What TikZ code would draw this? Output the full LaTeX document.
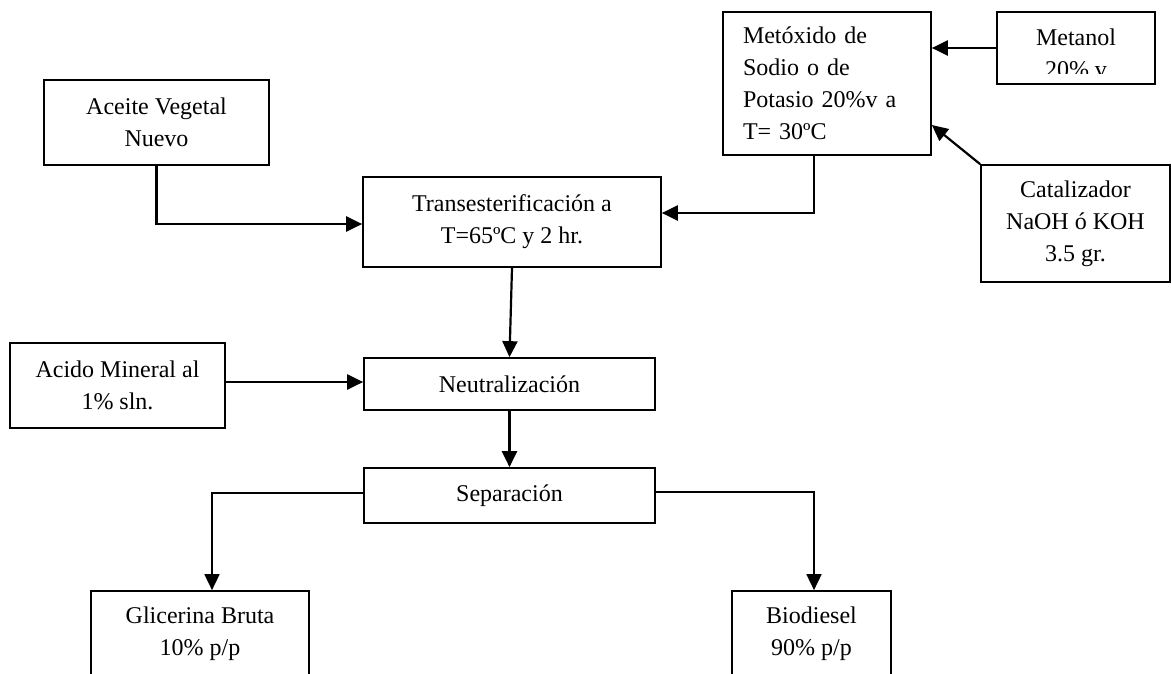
\documentclass[tikz,border=0pt]{standalone}
\usepackage{fontspec}
\setmainfont{Liberation Serif}
\usetikzlibrary{arrows.meta,calc}
\begin{document}
\begin{tikzpicture}[x=1pt,y=-1pt,
  txt/.style={inner sep=0pt, align=center, font=\fontsize{24}{32}\selectfont},
  box/.style={draw, line width=1.7pt, rectangle, txt},
  arr/.style={line width=2.2pt, -{Triangle[length=16pt,width=15pt]}},
  thinarr/.style={line width=1.7pt, -{Triangle[length=16pt,width=15pt]}}]
\useasboundingbox (0,0) rectangle (1171,673);
\clip (0,0) rectangle (1171,673);
\fill[white] (0,0) rectangle (1171,673);

\node[box, minimum width=225pt, minimum height=85pt] (aceite) at (156.5,122.5) {Aceite Vegetal\\Nuevo};
\node[box, minimum width=298pt, minimum height=90pt] (trans) at (512,222) {Transesterificación a\\T=65ºC y 2 hr.};
\node[box, minimum width=208pt, minimum height=143pt, text width=168pt, align=left] (metox) at (827,83.5) {Metóxido de\\Sodio o de\\Potasio 20\%v a\\T= 30ºC};
\node[box, minimum width=158pt, minimum height=72pt] (metanol) at (1076,48) {};
\begin{scope}
  \clip (997,12) rectangle (1155,73.5);
  \node[txt] (metanoltxt) at (1076,53) {Metanol\\20\% v};
\end{scope}
\node[box, minimum width=189pt, minimum height=117pt] (cat) at (1075.5,223.5) {Catalizador\\NaOH ó KOH\\3.5 gr.};
\node[box, minimum width=215pt, minimum height=85pt] (acido) at (117.5,385.5) {Acido Mineral al\\1\% sln.};
\node[box, minimum width=291pt, minimum height=52pt] (neutral) at (509.5,384) {Neutralización};
\node[box, minimum width=291pt, minimum height=55pt] (sep) at (509.5,495.5) {Separación};
\node[box, minimum width=218pt, minimum height=85pt] (glic) at (200,633.5) {Glicerina Bruta\\10\% p/p};
\node[box, minimum width=159pt, minimum height=85pt] (bio) at (811.5,633.5) {Biodiesel\\90\% p/p};

\draw[arr] (metanol.west) -- (metanol.west -| metox.east);
\draw[arr] (cat.north west) -- (metox.east |- 0,125);
\draw[arr] ([xshift=-13pt]metox.south) |- (trans.east |- 0,213);
\draw[arr] (aceite.south) |- (trans.west |- 0,224);
\draw[arr] (trans.south) -- (neutral.north);
\draw[arr] (acido.east |- 0,382) -- (neutral.west |- 0,382);
\draw[arr] (neutral.south) -- (sep.north);
\draw[thinarr] (sep.west |- 0,493) -| ([xshift=12pt]glic.north);
\draw[thinarr] (sep.east |- 0,492) -| ([xshift=2.5pt]bio.north);
\end{tikzpicture}
\end{document}
